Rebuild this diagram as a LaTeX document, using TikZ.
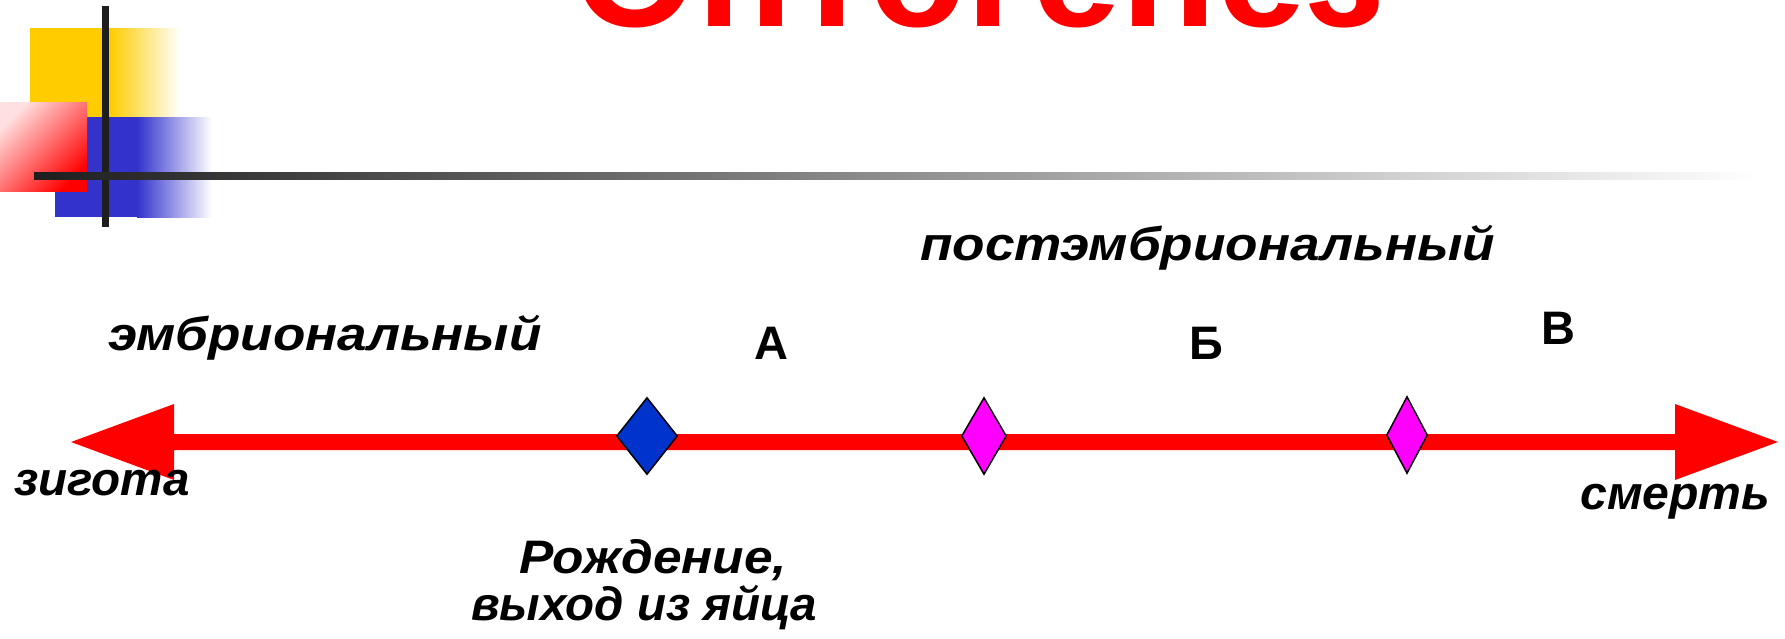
\documentclass[tikz,border=0pt]{standalone}
\usepackage{fontspec}
\setmainfont{Liberation Sans}
\usetikzlibrary{shapes.geometric}
\definecolor{myyellow}{HTML}{FFCC00}
\definecolor{myblue}{HTML}{3333CC}
\definecolor{mydark}{HTML}{1E1E1E}
\definecolor{dblue}{HTML}{0033CC}
\definecolor{mymag}{HTML}{FF00FF}
\begin{document}
\begin{tikzpicture}[x=1pt,y=-1pt,
  lbl/.style={font=\fontsize{47}{52}\selectfont\bfseries\itshape, inner sep=0pt, anchor=base west},
  letter/.style={font=\fontsize{47}{52}\selectfont\bfseries, inner sep=0pt, anchor=base west},
  dmd/.style={diamond, draw=black, line width=1.5pt, inner sep=0pt, minimum height=77pt}]
\useasboundingbox (0,0) rectangle (1785,638);
\clip (0,0) rectangle (1785,638);
% title
\node[font=\fontsize{159}{159}\selectfont\bfseries, text=red, inner sep=0pt, anchor=base] (title) at (979,26) {Онтогенез};
% decoration squares
\fill[myyellow] (30,28) rectangle (110,117);
\shade[left color=myyellow, right color=white] (109.5,28) rectangle (180,117);
\fill[myblue] (55,117) rectangle (138,217);
\shade[left color=myblue, right color=white] (137,117) rectangle (212,217);
\shade[left color=red!12, right color=red, shading angle=45] (0,102) rectangle (87,191);
\fill[mydark] (102,6) rectangle (109,227);
\shade[left color=mydark, right color=white] (34,172) rectangle (1762,179);
% arrow
\fill[red] (71,442) -- (174,404) -- (174,434) -- (1675,434) -- (1675,404) -- (1778,442) -- (1675,480) -- (1675,450) -- (174,450) -- (174,480) -- cycle;
% diamonds
\node[dmd, fill=dblue, minimum width=61pt, shape aspect=0.79] (birth) at (647,436) {};
\node[dmd, fill=mymag, minimum width=45pt, shape aspect=0.58] (d1) at (984,436) {};
\node[dmd, fill=mymag, minimum width=41pt, shape aspect=0.53] (d2) at (1407,435) {};
% labels
\node[lbl] (emb) at (108,350) {\scalebox{1.128}[1]{эмбриональный}};
\node[lbl] (post) at (920,260) {\scalebox{1.131}[1]{постэмбриональный}};
\node[letter] (la) at (754,359) {А};
\node[letter] (lb) at (1189,359) {Б};
\node[letter] (lv) at (1541,344) {В};
\node[lbl] (zyg) at (14,495) {\scalebox{1.013}[1]{зигота}};
\node[lbl] (death) at (1580,509) {\scalebox{1.025}[1]{смерть}};
\node[lbl, anchor=base] (born1) at (653,573) {\scalebox{1.094}[1]{Рождение,}};
\node[lbl, anchor=base] (born2) at (644,620) {\scalebox{1.01}[1]{выход из яйца}};
\end{tikzpicture}
\end{document}
